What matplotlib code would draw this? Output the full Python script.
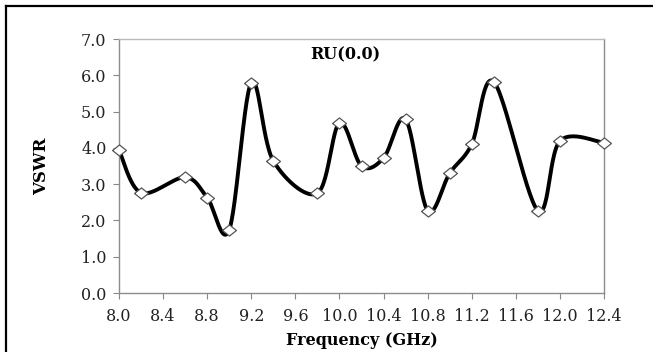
import numpy as np
import matplotlib.pyplot as plt
from matplotlib.lines import Line2D

# data
freq = [8.0, 8.2, 8.6, 8.8, 9.0, 9.2, 9.4, 9.8, 10.0, 10.2, 10.4, 10.6,
        10.8, 11.0, 11.2, 11.4, 11.8, 12.0, 12.4]
vswr = [3.94, 2.76, 3.19, 2.63, 1.74, 5.80, 3.64, 2.75, 4.69, 3.50, 3.72, 4.79,
        2.27, 3.30, 4.10, 5.82, 2.27, 4.19, 4.14]
xticks = [8.0, 8.4, 8.8, 9.2, 9.6, 10.0, 10.4, 10.8, 11.2, 11.6, 12.0, 12.4]
yticks = [0, 1, 2, 3, 4, 5, 6, 7]
label = 'RU(0.0)'


def smooth(x, y, n=30):
    # Catmull-Rom style smoothing like spreadsheet "smoothed line"
    x = np.asarray(x, float)
    y = np.asarray(y, float)
    px = np.concatenate([[x[0]], x, [x[-1]]])
    py = np.concatenate([[y[0]], y, [y[-1]]])
    xs, ys = [], []
    t = np.linspace(0, 1, n)
    for i in range(1, len(px) - 2):
        p0x, p1x, p2x, p3x = px[i - 1], px[i], px[i + 1], px[i + 2]
        p0y, p1y, p2y, p3y = py[i - 1], py[i], py[i + 1], py[i + 2]
        c1x, c1y = p1x + (p2x - p0x) / 6, p1y + (p2y - p0y) / 6
        c2x, c2y = p2x - (p3x - p1x) / 6, p2y - (p3y - p1y) / 6
        bx = (1-t)**3*p1x + 3*(1-t)**2*t*c1x + 3*(1-t)*t**2*c2x + t**3*p2x
        by = (1-t)**3*p1y + 3*(1-t)**2*t*c1y + 3*(1-t)*t**2*c2y + t**3*p2y
        xs.extend(bx)
        ys.extend(by)
    return np.array(xs), np.array(ys)


serif = ['DejaVu Serif']
diamond = [(-1, 0), (0, 0.8), (1, 0), (0, -0.8), (-1, 0)]

fig = plt.figure(figsize=(6.53, 3.52), dpi=100)
ax = fig.add_axes([0.1822, 0.1676, 0.925 - 0.1822, 0.8892 - 0.1676])

sx, sy = smooth(freq, vswr)
ax.plot(sx, sy, color='black', lw=2.8, solid_capstyle='round', zorder=2)
ax.plot(freq, vswr, ls='none', marker=diamond, markersize=10, clip_on=False,
        markerfacecolor='white', markeredgecolor='#555555', markeredgewidth=0.9, zorder=3)

ax.set_xlim(8.0, 12.4)
ax.set_ylim(0, 7)
ax.set_xticks(xticks)
ax.set_xticklabels(['%.1f' % v for v in xticks])
ax.set_yticks(yticks)
ax.set_yticklabels(['%.1f' % v for v in yticks])
for lab in ax.get_xticklabels() + ax.get_yticklabels():
    lab.set_family(serif)
    lab.set_fontsize(11.5)
    lab.set_color('#222222')
ax.tick_params(axis='both', direction='out', length=4, width=0.8, color='#888888')
ax.tick_params(axis='x', pad=7)
ax.tick_params(axis='y', pad=5)
for s in ax.spines.values():
    s.set_color('#8c8c8c')
    s.set_linewidth(1.0)
ax.spines['top'].set_color('#bbbbbb')

ax.set_xlabel('Frequency (GHz)', family=serif, fontweight='bold', fontsize=11.5, labelpad=5)
ax.set_ylabel('VSWR', family=serif, fontweight='bold', fontsize=12, labelpad=22)
ax.text(10.05, 6.55, label, family=serif, fontweight='bold', fontsize=11.5,
        ha='center', va='center')

# outer frame (left and top edges visible)
fig.add_artist(Line2D([6 / 653, 6 / 653], [0, 1 - 6 / 352], transform=fig.transFigure,
                      color='black', lw=1.6))
fig.add_artist(Line2D([6 / 653, 1], [1 - 6 / 352, 1 - 6 / 352], transform=fig.transFigure,
                      color='black', lw=1.6))

fig.savefig('out.png', dpi=100)
